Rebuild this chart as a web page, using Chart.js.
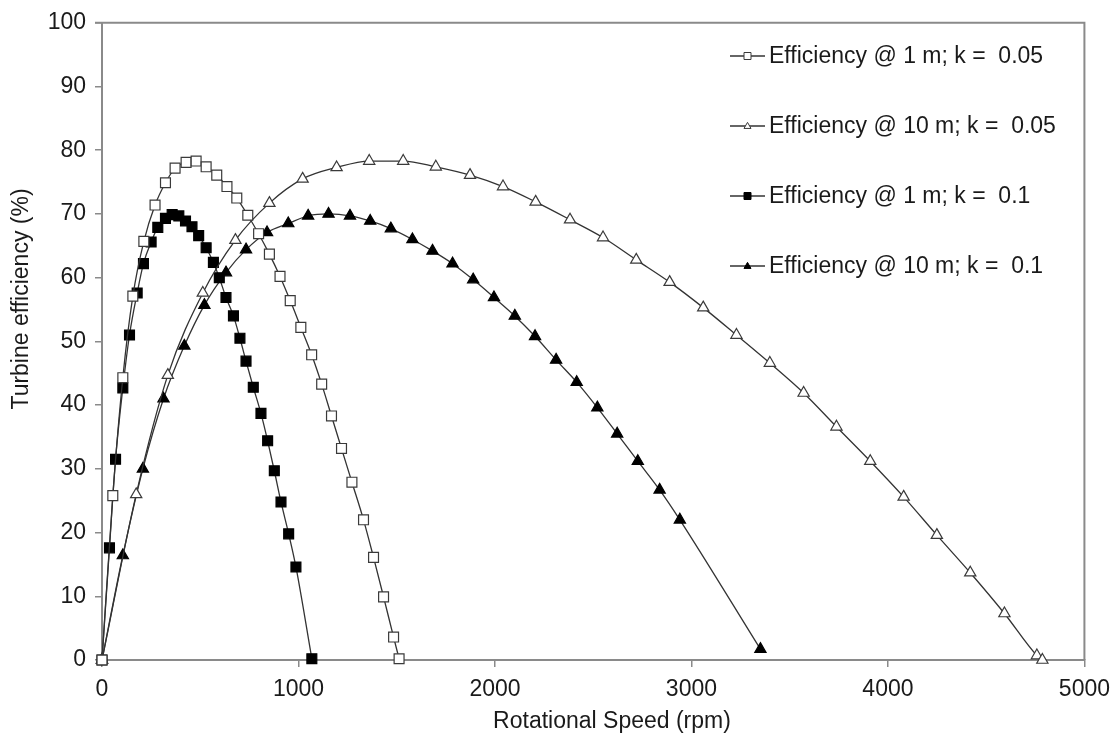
<!DOCTYPE html>
<html>
<head>
<meta charset="utf-8">
<script src="https://cdn.jsdelivr.net/npm/chart.js@4/dist/chart.umd.min.js"></script>
<style>
  html, body { margin: 0; padding: 0; background: #fff; }
  #wrap { width: 1119px; height: 744px; }
</style>
</head>
<body>
<div id="wrap"><canvas id="c" width="1119" height="744"></canvas></div>
<script>
// Rotational speed (rpm) and turbine efficiency (%) for each case
const rpmH1k005 = [0, 55, 106, 157, 213, 270, 323, 372, 428, 479, 530, 584, 636, 686, 742, 797, 852, 906, 958, 1012, 1067, 1118, 1168, 1219, 1272, 1331, 1382, 1433, 1484, 1512];
const effH1k005 = [0, 25.8, 44.3, 57.1, 65.7, 71.4, 74.9, 77.2, 78.1, 78.3, 77.4, 76.1, 74.3, 72.5, 69.8, 66.9, 63.7, 60.2, 56.4, 52.2, 47.9, 43.3, 38.3, 33.2, 27.9, 22.0, 16.1, 9.9, 3.6, 0.2];

const rpmH10k005 = [0, 174, 335, 513, 679, 852, 1021, 1194, 1360, 1533, 1699, 1873, 2041, 2207, 2382, 2550, 2719, 2889, 3060, 3229, 3399, 3571, 3738, 3910, 4080, 4249, 4419, 4593, 4758, 4786];
const effH10k005 = [0, 26.0, 44.7, 57.6, 65.9, 71.7, 75.5, 77.3, 78.3, 78.3, 77.4, 76.1, 74.3, 71.9, 69.1, 66.3, 62.8, 59.3, 55.3, 51.0, 46.6, 41.9, 36.6, 31.2, 25.6, 19.6, 13.7, 7.3, 0.7, 0];

const rpmH1k01 = [0, 38, 69, 106, 140, 179, 211, 250, 284, 323, 357, 391, 425, 458, 492, 530, 567, 597, 631, 669, 702, 733, 770, 809, 843, 877, 911, 950, 987, 1068];
const effH1k01 = [0, 17.6, 31.5, 42.7, 51.0, 57.6, 62.2, 65.6, 67.9, 69.3, 69.9, 69.7, 68.9, 68.0, 66.6, 64.7, 62.4, 60.0, 56.9, 54.0, 50.5, 46.9, 42.8, 38.7, 34.4, 29.7, 24.8, 19.8, 14.6, 0.2];

const rpmH10k01 = [0, 106, 208, 313, 419, 521, 631, 733, 840, 948, 1049, 1153, 1262, 1365, 1470, 1580, 1682, 1784, 1889, 1995, 2101, 2204, 2311, 2416, 2521, 2622, 2727, 2838, 2941, 3351];
const effH10k01 = [0, 16.4, 30.0, 41.0, 49.3, 55.7, 60.8, 64.4, 67.1, 68.5, 69.7, 70.0, 69.7, 68.9, 67.7, 66.0, 64.2, 62.2, 59.7, 56.9, 54.0, 50.8, 47.1, 43.6, 39.6, 35.5, 31.2, 26.7, 22.0, 1.7];

const seriesNames = [
  'Efficiency @ 1 m; k =  0.05',
  'Efficiency @ 10 m; k =  0.05',
  'Efficiency @ 1 m; k =  0.1',
  'Efficiency @ 10 m; k =  0.1'
];

const xTitle = 'Rotational Speed (rpm)';
const yTitle = 'Turbine efficiency (%)';

const FONT = "'Liberation Sans', Arial, sans-serif";
const FONT_SIZE = 23;
const AXIS_COLOR = '#8a8a8a';
const LINE_COLOR = '#333333';
const TEXT_COLOR = '#1a1a1a';

function pts(xs, ys) { return xs.map((x, i) => ({ x: x, y: ys[i] })); }

function series(label, xs, ys, style, filled) {
  return {
    label: label,
    data: pts(xs, ys),
    showLine: true,
    borderColor: LINE_COLOR,
    borderWidth: 1.3,
    cubicInterpolationMode: 'monotone',
    pointStyle: style,
    pointRadius: style === 'rect' ? 7 : 6.5,
    pointHoverRadius: style === 'rect' ? 7 : 6.5,
    pointBackgroundColor: filled ? '#000000' : '#ffffff',
    pointBorderColor: filled ? '#000000' : '#3a3a3a',
    pointBorderWidth: 1.2,
    clip: false
  };
}

// frame on the top and right of the plot area
const frame = {
  id: 'frame',
  beforeDatasetsDraw(chart) {
    const { ctx, chartArea: a } = chart;
    ctx.save();
    ctx.strokeStyle = AXIS_COLOR;
    ctx.lineWidth = 2;
    ctx.beginPath();
    ctx.moveTo(a.left - 7, a.top);
    ctx.lineTo(a.right, a.top);
    ctx.lineTo(a.right, a.bottom);
    ctx.stroke();
    ctx.restore();
  }
};

// axis titles
const titles = {
  id: 'titles',
  afterDraw(chart) {
    const ctx = chart.ctx;
    ctx.save();
    ctx.fillStyle = TEXT_COLOR;
    ctx.font = FONT_SIZE + 'px ' + FONT;
    ctx.textAlign = 'center';
    ctx.textBaseline = 'middle';
    ctx.fillText(xTitle, 612, 722);
    ctx.translate(22, 299);
    ctx.rotate(-Math.PI / 2);
    ctx.fillText(yTitle, 0, 0);
    ctx.restore();
  }
};

// legend: short line with marker, then the label
function drawMarker(ctx, style, x, y, s, filled) {
  ctx.beginPath();
  if (style === 'rect') {
    ctx.rect(x - s / 2, y - s / 2, s, s);
  } else {
    const h = s * 0.87;
    ctx.moveTo(x, y - h * 0.6);
    ctx.lineTo(x + s / 2, y + h * 0.4);
    ctx.lineTo(x - s / 2, y + h * 0.4);
    ctx.closePath();
  }
  ctx.fillStyle = filled ? '#000' : '#fff';
  ctx.fill();
  ctx.strokeStyle = filled ? '#000' : '#3a3a3a';
  ctx.lineWidth = 1;
  ctx.stroke();
}

const legendBox = {
  id: 'legendBox',
  afterDraw(chart) {
    const ctx = chart.ctx;
    const rows = [56, 126, 196, 266];
    ctx.save();
    chart.data.datasets.forEach((ds, i) => {
      const y = rows[i];
      ctx.strokeStyle = LINE_COLOR;
      ctx.lineWidth = 1.3;
      ctx.beginPath();
      ctx.moveTo(730, y);
      ctx.lineTo(765, y);
      ctx.stroke();
      drawMarker(ctx, ds.pointStyle, 747.5, y, 7, ds.pointBackgroundColor === '#000000');
      ctx.fillStyle = TEXT_COLOR;
      ctx.font = FONT_SIZE + 'px ' + FONT;
      ctx.textAlign = 'left';
      ctx.textBaseline = 'middle';
      ctx.fillText(ds.label, 769, y + 1);
    });
    ctx.restore();
  }
};

new Chart(document.getElementById('c'), {
  type: 'scatter',
  data: {
    datasets: [
      series(seriesNames[0], rpmH1k005, effH1k005, 'rect', false),
      series(seriesNames[1], rpmH10k005, effH10k005, 'triangle', false),
      series(seriesNames[2], rpmH1k01, effH1k01, 'rect', true),
      series(seriesNames[3], rpmH10k01, effH10k01, 'triangle', true)
    ]
  },
  options: {
    responsive: false,
    animation: false,
    devicePixelRatio: 1,
    layout: { padding: { left: 0, top: 20, right: 33, bottom: 0 } },
    plugins: { legend: { display: false }, tooltip: { enabled: false } },
    scales: {
      x: {
        type: 'linear', min: 0, max: 5000,
        ticks: { stepSize: 1000, color: TEXT_COLOR, font: { family: FONT, size: FONT_SIZE }, padding: 9, maxRotation: 0,
                 callback: (v) => String(v) },
        grid: { drawOnChartArea: false, drawTicks: true, tickLength: 7, color: AXIS_COLOR, lineWidth: 1.5 },
        border: { color: AXIS_COLOR, width: 2 },
        afterFit(s) { s.height = 84; }
      },
      y: {
        type: 'linear', min: 0, max: 100,
        ticks: { stepSize: 10, color: TEXT_COLOR, font: { family: FONT, size: FONT_SIZE }, padding: 9,
                 callback: (v) => String(v) },
        grid: { drawOnChartArea: false, drawTicks: true, tickLength: 7, color: AXIS_COLOR, lineWidth: 1.5 },
        border: { color: AXIS_COLOR, width: 2 },
        afterFit(s) { s.width = 102; }
      }
    }
  },
  plugins: [frame, titles, legendBox]
});
</script>
</body>
</html>
